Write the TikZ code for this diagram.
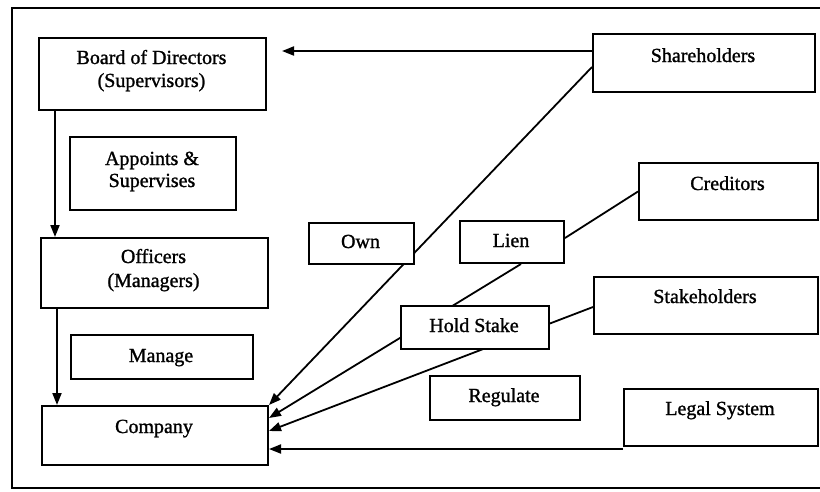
\documentclass[tikz,border=0pt]{standalone}
\usepackage{fontspec}
\setmainfont{Liberation Serif}[FakeBold=1.2]
\newfontfamily\heavyfont{Liberation Serif}[FakeBold=1.2]
\usetikzlibrary{arrows.meta,backgrounds}
\tikzset{
  box/.style={draw, line width=2pt, fill=white, inner sep=0pt, anchor=north west},
  lbl/.style={anchor=base, inner sep=0pt},
  conn/.style={line width=1.8pt},
  arr/.style={conn, -{Triangle[length=12pt,width=9pt]}}
}
\begin{document}
\begin{tikzpicture}[x=1pt,y=-1pt,font=\heavyfont\fontsize{20}{23}\selectfont]
\useasboundingbox (0,0) rectangle (820,491);
% boxes
\node[box, minimum width=227pt, minimum height=72pt] (board) at (38,37) {};
\node[box, minimum width=166pt, minimum height=73pt] (appoint) at (69,136) {};
\node[box, minimum width=227pt, minimum height=70pt] (officers) at (40,237) {};
\node[box, minimum width=182pt, minimum height=44pt] (manage) at (70,334) {};
\node[box, minimum width=226pt, minimum height=59pt] (company) at (41,405) {};
\node[box, minimum width=105pt, minimum height=41pt] (own) at (308,222) {};
\node[box, minimum width=104pt, minimum height=42pt] (lien) at (459,220) {};
\node[box, minimum width=148pt, minimum height=43pt] (hold) at (400,305) {};
\node[box, minimum width=150pt, minimum height=44pt] (regulate) at (429,375) {};
\node[box, minimum width=222pt, minimum height=58pt] (sh) at (592,33) {};
\node[box, minimum width=179pt, minimum height=57pt] (cred) at (638,162) {};
\node[box, minimum width=224pt, minimum height=57pt] (stake) at (593,276) {};
\node[box, minimum width=194pt, minimum height=57pt] (legal) at (623,388) {};
% labels
\node[lbl] (board-t1) at (151.5,64) {Board of Directors};
\node[lbl] (board-t2) at (151.5,87) {(Supervisors)};
\node[lbl] (appoint-t1) at (152,165) {Appoints \&};
\node[lbl] (appoint-t2) at (152,187) {Supervises};
\node[lbl] (officers-t1) at (153.5,263) {Officers};
\node[lbl] (officers-t2) at (153.5,287) {(Managers)};
\node[lbl] (manage-t) at (161,362) {Manage};
\node[lbl] (company-t) at (154,433) {Company};
\node[lbl] (own-t) at (360.5,248) {Own};
\node[lbl] (lien-t) at (511,247) {Lien};
\node[lbl] (hold-t) at (474,332) {Hold Stake};
\node[lbl] (regulate-t) at (504,402) {Regulate};
\node[lbl] (sh-t) at (703,62) {Shareholders};
\node[lbl] (cred-t) at (727.5,190) {Creditors};
\node[lbl] (stake-t) at (705,303) {Stakeholders};
\node[lbl] (legal-t) at (720,415) {Legal System};
% connectors behind the boxes
\begin{scope}[on background layer]
\draw[conn] (820,8) -- (12,8) -- (12,488) -- (820,488);
\draw[arr] ([yshift=12pt]sh.west) -- ([xshift=15pt,yshift=23pt]board.east);
\draw[arr] ([xshift=17pt]board.south west) -- ([xshift=15pt]officers.north west);
\draw[arr] ([xshift=17pt]officers.south west) -- ([xshift=16pt]company.north west);
\draw[arr] ([yshift=-4pt]sh.west) -- (company.north east);
\draw[conn] (cred.west) -- ([yshift=4pt]lien.east);
\draw[arr] ([xshift=9pt]lien.south) -- ([yshift=17.5pt]company.east);
\draw[arr] ([yshift=-1.5pt]stake.west) -- ([yshift=4.5pt]company.east);
\draw[arr] ([yshift=-2pt]legal.south west) -- ([yshift=-2pt]company.east |- legal.south west);
\end{scope}
\end{tikzpicture}
\end{document}
